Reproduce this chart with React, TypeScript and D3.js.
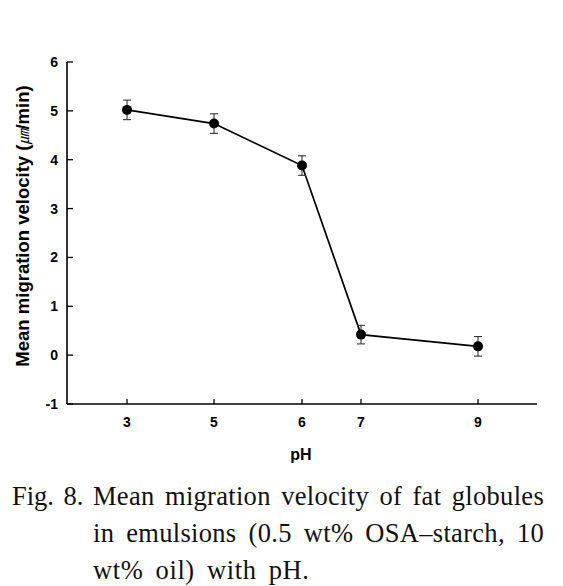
import React, { useEffect, useRef } from "react";
import * as d3 from "d3";

// ---- data ----
const PH = [3, 5, 6, 7, 9];
const VELOCITY = [5.02, 4.74, 3.88, 0.42, 0.18];
const ERROR = [0.2, 0.2, 0.2, 0.19, 0.2];
const Y_TICKS = [-1, 0, 1, 2, 3, 4, 5, 6];
const X_TICK_LABELS = ["3", "5", "6", "7", "9"];
const X_LABEL = "pH";
const Y_LABEL_MAIN = "Mean migration velocity (";
const Y_LABEL_UNIT = "\u339B";
const Y_LABEL_END = "/min)";
const CAPTION_LABEL = "Fig. 8.";
const CAPTION_LINES = [
  "Mean migration velocity of fat globules",
  "in emulsions (0.5 wt% OSA\u2013starch, 10",
  "wt% oil) with pH.",
];

// ---- layout ----
const W = 563;
const H = 586;
const LEFT = 67;
const RIGHT = 537;
const TOP = 62;
const BOTTOM = 404;
// the original axis places pH ticks irregularly; fractions of axis width
const X_TICK_FRAC = [0.1277, 0.3128, 0.5, 0.6255, 0.8745];

const SANS = "'Liberation Sans', Arial, 'Noto Sans CJK JP', sans-serif";
const SERIF = "'Liberation Serif', 'Times New Roman', serif";

export default function App() {
  const capRef = useRef<SVGGElement>(null);

  const x = d3
    .scaleLinear()
    .domain(PH)
    .range(X_TICK_FRAC.map((f) => LEFT + f * (RIGHT - LEFT)));
  const y = d3.scaleLinear().domain([-1, 6]).range([BOTTOM, TOP]);

  const pts = PH.map((p, i) => ({ p, v: VELOCITY[i], e: ERROR[i] }));
  const line = d3
    .line<{ p: number; v: number }>()
    .x((d) => x(d.p))
    .y((d) => y(d.v));

  const capStart = 93;
  const capEnd = 544;

  useEffect(() => {
    if (!capRef.current) return;
    d3.select(capRef.current)
      .selectAll<SVGTextElement, unknown>("text.just")
      .each(function () {
        const t = this as SVGTextElement;
        t.style.wordSpacing = "0px";
        const natural = t.getComputedTextLength();
        const words = (t.textContent || "").split(" ").length;
        const extra = (capEnd - capStart - natural) / Math.max(1, words - 1);
        t.style.wordSpacing = `${extra}px`;
      });
  }, []);

  return (
    <svg
      width={W}
      height={H}
      style={{ position: "absolute", left: 0, top: 0, background: "#fff" }}
    >
      <rect width={W} height={H} fill="#fff" />
      {/* axes */}
      <g stroke="#000" strokeWidth={1.6} fill="none">
        <line x1={LEFT} x2={LEFT} y1={TOP} y2={BOTTOM} />
        <line x1={LEFT} x2={RIGHT} y1={BOTTOM} y2={BOTTOM} />
        {Y_TICKS.map((t) => (
          <line key={t} x1={LEFT} x2={LEFT + 6} y1={y(t)} y2={y(t)} strokeWidth={1.3} />
        ))}
        {PH.map((p) => (
          <line key={p} x1={x(p)} x2={x(p)} y1={BOTTOM} y2={BOTTOM - 5} strokeWidth={1.3} />
        ))}
      </g>
      {/* tick labels */}
      <g fontFamily={SANS} fontWeight="bold" fontSize={14} fill="#000">
        {Y_TICKS.map((t) => (
          <text key={t} x={LEFT - 9} y={y(t)} dy="0.36em" textAnchor="end">
            {t}
          </text>
        ))}
        {PH.map((p, i) => (
          <text key={p} x={x(p)} y={427} textAnchor="middle">
            {X_TICK_LABELS[i]}
          </text>
        ))}
      </g>
      <text
        x={301}
        y={460}
        textAnchor="middle"
        fontFamily={SANS}
        fontWeight="bold"
        fontSize={16}
      >
        {X_LABEL}
      </text>
      <text
        transform={`translate(29,226) rotate(-90)`}
        textAnchor="middle"
        fontFamily={SANS}
        fontWeight="bold"
        fontSize={18.5}
      >
        {Y_LABEL_MAIN}
        <tspan fontWeight="normal" fontStyle="italic" fontSize={15}>
          {Y_LABEL_UNIT}
        </tspan>
        {Y_LABEL_END}
      </text>
      {/* series line */}
      <path d={line(pts) || ""} fill="none" stroke="#000" strokeWidth={1.7} />
      {/* error bars */}
      <g stroke="#333" strokeWidth={1.1}>
        {pts.map((d) => (
          <g key={d.p}>
            <line x1={x(d.p)} x2={x(d.p)} y1={y(d.v - d.e)} y2={y(d.v + d.e)} />
            <line x1={x(d.p) - 4} x2={x(d.p) + 4} y1={y(d.v - d.e)} y2={y(d.v - d.e)} />
            <line x1={x(d.p) - 4} x2={x(d.p) + 4} y1={y(d.v + d.e)} y2={y(d.v + d.e)} />
          </g>
        ))}
      </g>
      {pts.map((d) => (
        <circle key={d.p} cx={x(d.p)} cy={y(d.v)} r={5} fill="#000" />
      ))}
      {/* caption */}
      <g ref={capRef} fontFamily={SERIF} fontSize={26.5} fill="#111">
        <text x={12} y={505} style={{ wordSpacing: "3px" }}>
          {CAPTION_LABEL}
        </text>
        <text className="just" x={capStart} y={505} letterSpacing={0.3}>
          {CAPTION_LINES[0]}
        </text>
        <text className="just" x={capStart} y={542} letterSpacing={0.3}>
          {CAPTION_LINES[1]}
        </text>
        <text x={capStart} y={579} letterSpacing={0.6} style={{ wordSpacing: "5px" }}>
          {CAPTION_LINES[2]}
        </text>
      </g>
    </svg>
  );
}
